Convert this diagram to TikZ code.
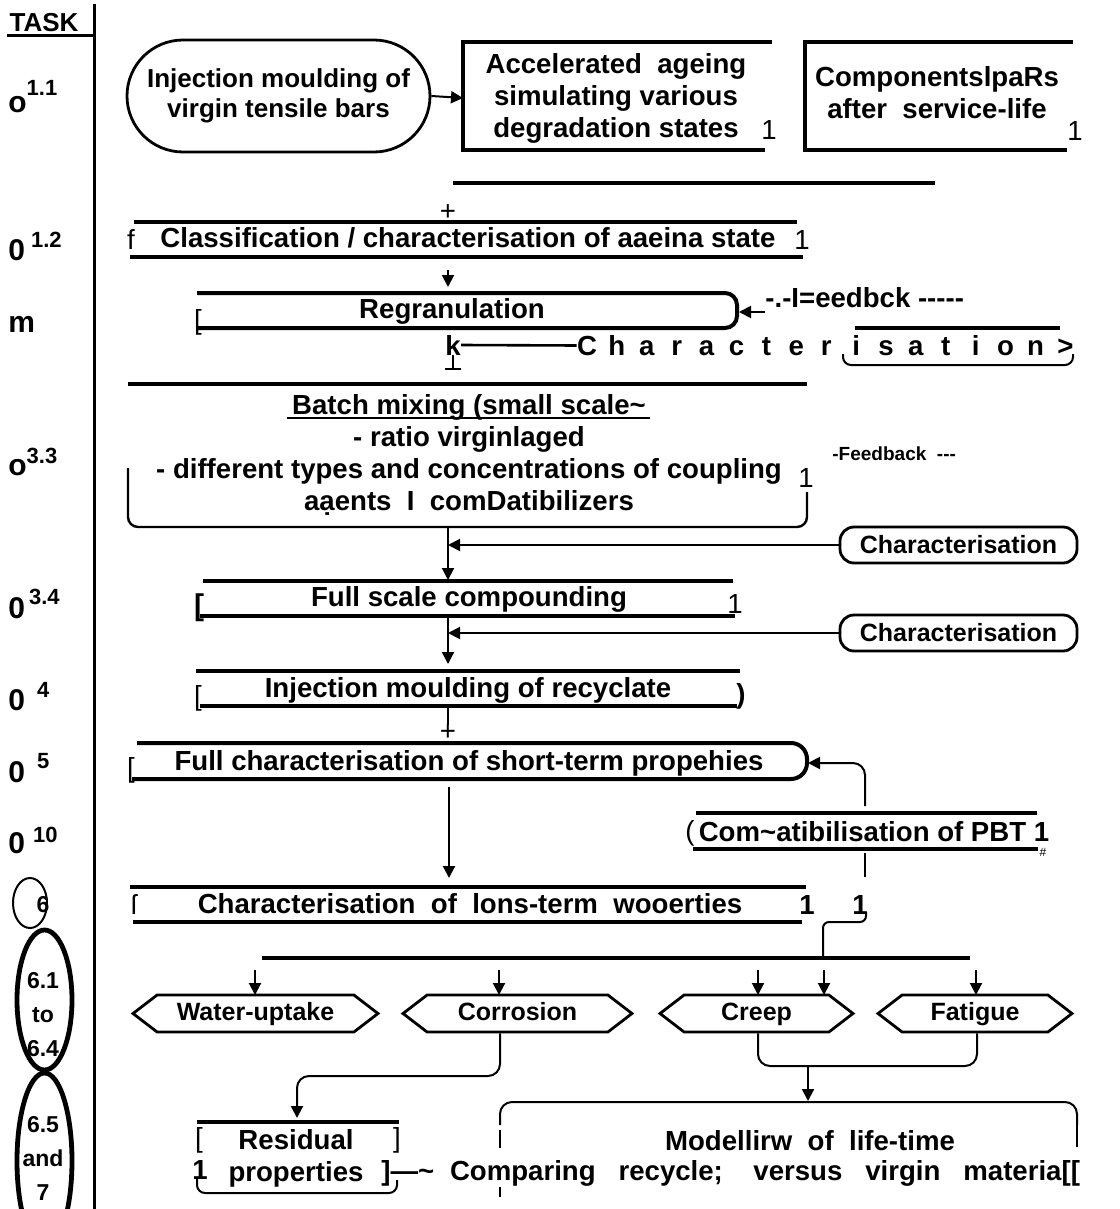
\documentclass[tikz,border=0pt]{standalone}
\usepackage{fontspec}
\setmainfont{Liberation Sans}
\usetikzlibrary{arrows.meta,calc,positioning,shapes.geometric,shapes.misc,shapes.symbols}
\tikzset{
  lbl/.style={font=\bfseries\fontsize{13.8}{16}\selectfont,inner sep=0pt,align=center},
  plain/.style={font=\fontsize{13.8}{16}\selectfont,inner sep=0pt},
  tasklbl/.style={font=\bfseries\fontsize{15}{18}\selectfont,inner sep=0pt,anchor=base west},
  ringtxt/.style={font=\bfseries\fontsize{11.5}{17}\selectfont,inner sep=0pt,align=center},
  ring/.style={draw,ellipse,line width=2.4pt,inner sep=0pt},
  bar/.style={line width=2pt},
  wire/.style={line width=1pt},
  pill/.style={draw,line width=1.4pt,rounded corners=7pt,minimum width=118.5pt,minimum height=18pt,inner sep=0pt,font=\bfseries\fontsize{12.5}{14}\selectfont},
  hexa/.style={draw,line width=1.4pt,signal,signal to=west and east,signal pointer angle=75,minimum height=18.5pt,inner sep=0pt,text height=9pt,text depth=2.5pt,font=\bfseries\fontsize{12.5}{14}\selectfont},
  stadium/.style={draw,line width=1.4pt,rounded rectangle,minimum width=151.5pt,minimum height=56pt,inner sep=0pt,align=center,font=\bfseries\fontsize{13}{15}\selectfont}
}
\newcommand{\tasknr}[3]{#1\raisebox{#3}{\fontsize{11}{12}\selectfont #2}}

\begin{document}
\begin{tikzpicture}[x=0.5pt,y=-0.5pt,>={Triangle[width=6pt,length=6pt]}]
  \path[use as bounding box,fill=white] (0,0) rectangle (1119,1209);

  % task column
  \node[font=\bfseries\fontsize{13}{14}\selectfont,inner sep=0pt,anchor=base] (task) at (44,32) {TASK};
  \draw[line width=1.5pt] (7,36) -- (94,36);
  \draw[line width=1.5pt] (94,4) -- (94,1209);
  \node[tasklbl] (t11) at (8,113) {\tasknr{o}{1.1}{8.5pt}};
  \node[tasklbl] (t12) at (8,260) {\tasknr{0}{\hspace{3pt}1.2}{6pt}};
  \node[tasklbl] (tm)  at (8,332) {m};
  \node[tasklbl] (t33) at (8,475) {\tasknr{o}{3.3}{6pt}};
  \node[tasklbl] (t34) at (8,618) {\tasknr{0}{\hspace{2pt}3.4}{7pt}};
  \node[tasklbl] (t4)  at (8,710) {\tasknr{0}{\hspace{6pt}4}{6.5pt}};
  \node[tasklbl] (t5)  at (8,782) {\tasknr{0}{\hspace{6pt}5}{7pt}};
  \node[tasklbl] (t10) at (8,853) {\tasknr{0}{\hspace{4pt}10}{5.5pt}};
  \node[draw,ellipse,line width=1pt,minimum width=17pt,minimum height=25pt] (c6) at (30,903) {};
  \node[ringtxt] (n6) at (43,905) {6};
  \node[ring,minimum width=27.5pt,minimum height=70pt] (r61) at (44.5,1000) {};
  \node[ringtxt] (n61) at (43,1015) {6.1\\to\\6.4};
  \node[ring,minimum width=27.5pt,minimum height=88pt] (r65) at (44.5,1161) {};
  \node[ringtxt] (n65) at (43,1158) {6.5\\and\\7};

  % task 1.1
  \node[stadium] (inj) at (278.5,96) {Injection moulding of\\virgin tensile bars};
  \node[lbl] (acc) at (616,98) {Accelerated\ \ ageing\\simulating\ various\\degradation\ states};
  \draw[bar] (463,42) -- (772,42);
  \draw[bar] (463,40) -- (463,150) -- (765,150);
  \node[plain] (acc1) at (769,130) {1};
  \draw[wire,->] (inj.east) -- (acc.west -| 463,0);
  \node[lbl] (comp) at (937,93) {ComponentslpaRs\\after\ \ service-life};
  \draw[bar] (1073,42) -- (805,42) -- (805,150) -- (1067,150);
  \node[plain] (comp1) at (1075,131) {1};
  \draw[bar] (453,183) -- (935,183);
  \node[plain] (p1) at (448,213) {+};

  % task 1.2
  \node[lbl,anchor=base] (cls) at (468,248) {Classification / characterisation of aaeina state};
  \draw[bar] (134,222) -- (797,222);
  \draw[bar] (130,257) -- (803,257);
  \node[plain] (clsf) at (131,240) {f};
  \node[plain] (cls1) at (802,240) {1};
  \coordinate (s1) at (448,270);
  \draw[wire,->] (s1) -- ++(0,17);

  % regranulation
  \node[lbl,anchor=base] (reg) at (452,318) {Regranulation};
  \draw[bar,rounded corners=6pt] (197,293) -- (737,293) -- (737,328) -- (198,328);
  \node[plain] (reg0) at (198,322) {[};
  \coordinate (regE) at (739,312);
  \node[lbl,anchor=base west] (fb1) at (765,307) {-.-I=eedbck -{}-{}-{}-{}-};
  \draw[wire,->] (fb1.west |- regE) -- (regE);
  \node[lbl,anchor=base] (k) at (453,355) {k};
  \foreach \ch [count=\i from 0] in {C,h,a,r,a,c,t,e,r,i,s,a,t,i,o,n,>}
    \node[lbl,anchor=base] (cs\i) at ({587+29.9*\i},355) {\ch};
  \draw[line width=1.3pt] (k.east) -- (cs0.west);
  \draw[wire,-{Bar[width=8pt]}] (k.south) -- ++(0,15);
  \draw[bar] (855,328) -- (1060,328);
  \draw[wire,rounded corners=4pt] (843,354) |- (1073,365) -- (1073,354);

  % task 3.3
  \draw[bar] (128,384) -- (807,384);
  \node[lbl] (bm) at (469,455) {Batch mixing (small scale\textasciitilde\\- ratio virginlaged\\- different types and concentrations of coupling\\aạents\ \ I\ \ comDatibilizers};
  \draw[line width=1.2pt] (287,418) -- (650,418);
  \draw[line width=1.2pt,rounded corners=5pt] (128,468) -- (128,527) -- (807,527) -- (807,492);
  \node[plain] (bm1) at (806,478) {1};
  \node[font=\bfseries\fontsize{9.5}{11}\selectfont,inner sep=0pt,anchor=base west] (fb2) at (832,460) {-Feedback\ \ -{}-{}-};
  \node[pill] (ch1) at (958.5,545) {Characterisation};
  \coordinate (j1) at (448,545);
  \draw[wire,->] (448,527) -- (448,580);
  \draw[wire,->] (ch1.west) -- (j1);

  % task 3.4
  \node[lbl,anchor=base] (fsc) at (469,606) {Full scale compounding};
  \draw[bar] (203,581) -- (733,581);
  \draw[bar] (200,616) -- (735,616);
  \node[lbl,font=\bfseries\fontsize{15}{16}\selectfont] (fsc0) at (199,608) {[};
  \node[plain] (fsc1) at (735,604) {1};
  \node[pill] (ch2) at (958.5,633) {Characterisation};
  \coordinate (j2) at (448,633);
  \draw[wire,->] (448,616) -- (448,664);
  \draw[wire,->] (ch2.west) -- (j2);

  % task 4
  \node[lbl,anchor=base] (imr) at (468,697) {Injection moulding of recyclate};
  \draw[bar] (196,671) -- (740,671);
  \draw[bar] (200,706) -- (737,706);
  \node[plain] (imr0) at (198,698) {[};
  \node[lbl] (imr1) at (741,696) {)};
  \node[plain] (p2) at (448,733) {+};
  \draw[wire] (448,706) -- (p2.north);

  % task 5
  \node[lbl,anchor=base] (fcs) at (469,770) {Full characterisation of short-term propehies};
  \draw[bar,rounded corners=8pt] (137,743) -- (807,743) -- (807,779) -- (132,779);
  \node[plain] (fcs0) at (131,770) {[};
  \draw[wire,->] (449,787) -- (449,878);

  % task 10
  \node[lbl,anchor=base] (cpt) at (874,841) {Com\textasciitilde atibilisation of PBT 1};
  \draw[bar] (696,813) -- (1037,813);
  \draw[bar] (693,849) -- (1038,849);
  \node[plain] (cpt0) at (690,833) {(};
  \node[font=\fontsize{6}{7}\selectfont,inner sep=0pt] (cpt2) at (1043,852) {\#};
  \draw[wire,->,rounded corners=6pt] (865,806) |- (808,763);
  \draw[wire] (865,853) -- (865,877);

  % task 6
  \node[lbl,anchor=base] (clt) at (470,913) {Characterisation\ \ of\ \ lons-term\ \ wooerties};
  \draw[bar] (130,887) -- (806,887);
  \draw[bar] (133,922) -- (802,922);
  \node[plain] (clt0) at (134,905) {ſ};
  \node[lbl] (clt1) at (807,905) {1};
  \node[lbl] (clt2) at (860,905) {1};
  \draw[wire,rounded corners=3pt] (866,912) |- (823,922) -- (823,958);
  \draw[line width=2.2pt] (262,958) -- (970,958);

  % tasks 6.1 to 6.4
  \node[hexa,minimum width=122.5pt] (wat) at (255.5,1013.5) {Water-uptake};
  \node[hexa,minimum width=114.5pt] (cor) at (517.5,1013.5) {Corrosion};
  \node[hexa,minimum width=96.5pt] (crp) at (756.5,1013.5) {Creep};
  \node[hexa,minimum width=97pt] (fat) at (975,1013.5) {Fatigue};
  \foreach \xa in {255,499,758,824,976}
    \draw[wire,->] (\xa,970) -- (\xa,995);

  % tasks 6.5 and 7
  \node[lbl] (res) at (296,1158) {Residual\\properties};
  \draw[bar] (197,1122) -- (399,1122);
  \node[plain] (res0) at (199,1140) {[};
  \node[plain] (res1) at (397,1140) {]};
  \node[lbl] (res2) at (200,1170) {1};
  \node[lbl,anchor=base west] (res3) at (381,1180) {]—\textasciitilde};
  \draw[wire,rounded corners=4pt] (197,1178) |- (397,1193) -- (397,1180);
  \draw[wire,->,rounded corners=6pt] (cor.south -| 500,0) |- (297,1076) -- (297,1118);

  \node[lbl,anchor=base] (mod) at (810,1150) {Modellirw\ \ of\ \ life-time};
  \node[lbl,anchor=base] (cmp) at (765,1180) {\makebox[315pt][s]{Comparing recycle; versus virgin materia[[}};
  \draw[wire,rounded corners=6pt] (500,1125) |- (1077,1102) -- (1077,1125);
  \draw[wire] (500,1130) -- (500,1148);
  \draw[wire] (500,1187) -- (500,1197);
  \draw[wire] (1077,1125) -- (1077,1147);
  \coordinate (mrg) at (808,1066);
  \draw[wire,rounded corners=6pt] (crp.south -| 758,0) |- (mrg) -| (fat.south -| 977,0);
  \draw[wire,->] (mrg) -- (808,1101);
\end{tikzpicture}
\end{document}
